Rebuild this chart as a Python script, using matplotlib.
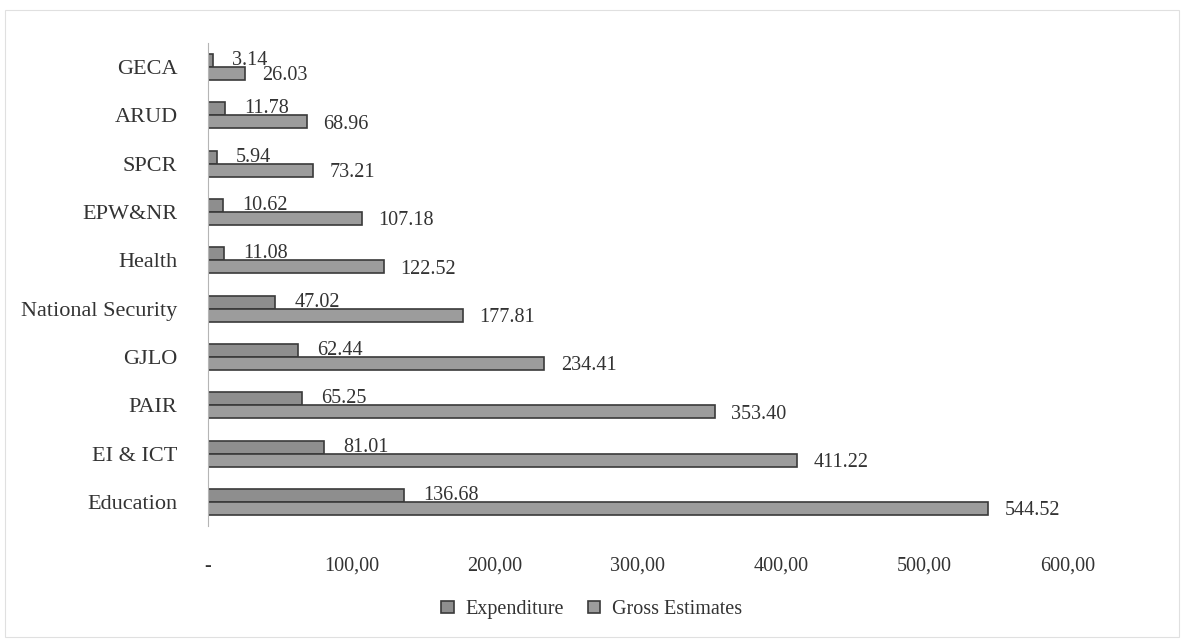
import numpy as np
import matplotlib
matplotlib.use("Agg")
import matplotlib.pyplot as plt

# sectors, bottom to top as drawn on the y axis
sectors = ["Education", "EI & ICT", "PAIR", "GJLO", "National Security",
           "Health", "EPW&NR", "SPCR", "ARUD", "GECA"]
expenditure = [136.68, 81.01, 65.25, 62.44, 47.02, 11.08, 10.62, 5.94, 11.78, 3.14]
gross_estimates = [544.52, 411.22, 353.40, 234.41, 177.81, 122.52, 107.18, 73.21, 68.96, 26.03]
xticks = [0, 100, 200, 300, 400, 500, 600]
xtick_labels = ["-", "100,00", "200,00", "300,00", "400,00", "500,00", "600,00"]

plt.rcParams['font.family'] = ['Liberation Serif', 'DejaVu Serif']

fig = plt.figure(figsize=(11.84, 6.41), dpi=100)
ax = fig.add_axes([0.1757, 0.179, 0.902 - 0.1757, 0.933 - 0.179])

y = np.arange(len(sectors))
h = 0.27
bar_kw = dict(height=h, edgecolor="#3a3a3a", linewidth=1.2)
ax.barh(y + h / 2, expenditure, color="#8e8e8e", label="Expenditure", **bar_kw)
ax.barh(y - h / 2, gross_estimates, color="#9c9c9c", label="Gross Estimates", **bar_kw)

# value labels: expenditure sits on top of the gross bar, gross to the right of its bar
for yi, e, g in zip(y, expenditure, gross_estimates):
    ax.annotate(f"{e:.2f}", (e, yi), xytext=(14, -2), textcoords="offset points",
                ha="left", va="bottom", fontsize=14.5, color="#333333")
    ax.annotate(f"{g:.2f}", (g, yi - h / 2), xytext=(12, -1.5), textcoords="offset points",
                ha="left", va="center", fontsize=14.5, color="#333333")

ax.set_xlim(0, 600)
ax.set_ylim(-0.5, len(sectors) - 0.5)
ax.set_xticks(xticks)
ax.set_xticklabels(xtick_labels)
ax.set_yticks(y)
ax.set_yticklabels(sectors)
ax.tick_params(axis="x", length=0, labelsize=14.5, pad=22, colors="#333333")
ax.tick_params(axis="y", length=0, labelsize=16, pad=22, colors="#333333")

for side in ["top", "right", "bottom"]:
    ax.spines[side].set_visible(False)
ax.spines["left"].set_color("#b5b5b5")
ax.spines["left"].set_linewidth(0.8)

fig.legend(loc="center", bbox_to_anchor=(0.5, 0.049), ncol=2, frameon=False,
           fontsize=14.5, handlelength=0.6, handleheight=0.6, columnspacing=1.2,
           handletextpad=0.6, labelcolor="#333333")

# faint page border
fig.patches.append(plt.Rectangle((0.004, 0.006), 0.992, 0.978, transform=fig.transFigure,
                                 fill=False, edgecolor="#e0e0e0", linewidth=0.8))

fig.savefig("out.png", dpi=100, facecolor="white")
